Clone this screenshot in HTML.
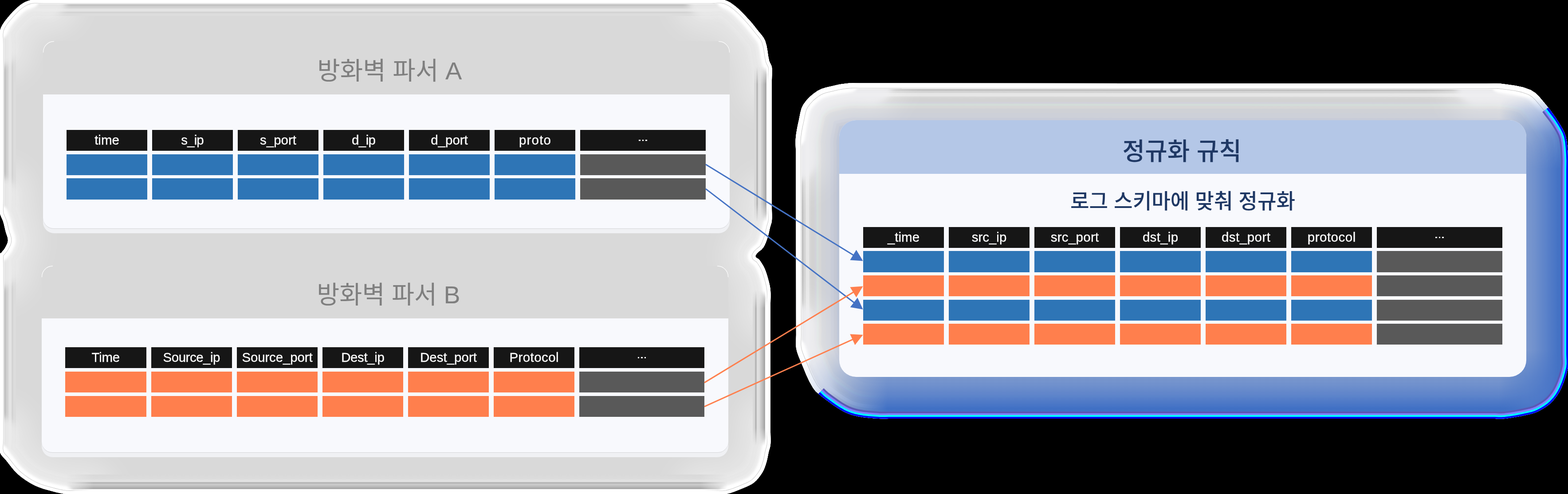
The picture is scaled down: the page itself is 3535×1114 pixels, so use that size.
<!DOCTYPE html>
<html lang="ko"><head><meta charset="utf-8"><title>로그 정규화</title>
<style>
html,body{margin:0;padding:0;background:#000}
body{width:3535px;height:1114px;position:relative;overflow:hidden;font-family:"Liberation Sans",sans-serif}
.h,.c{position:absolute}
.h{background:#161616;color:#fff;font-size:29.5px;text-align:center;white-space:nowrap;will-change:transform;-webkit-text-stroke:0.3px #fff}
.k{position:absolute;color:transparent;white-space:nowrap;line-height:1.3;overflow:hidden;height:1.3em;width:8em}
.d{display:flex;align-items:center;justify-content:center}
.d i{display:block;width:3.4px;height:3.4px;background:#fff;margin:0 2.05px}
</style></head><body>
<svg width="3535" height="1114" viewBox="0 0 3535 1114" style="position:absolute;left:0;top:0"><defs>
<clipPath id="cL"><polygon points="70.0,0.0 77.4,-0.9 84.9,-0.8 92.5,-0.3 100.0,0.0 475.8,0.0 851.5,0.0 1227.2,0.0 1603.0,0.0 1610.5,-0.4 1618.1,-1.0 1625.6,-1.1 1633.0,0.0 1640.0,2.6 1646.7,6.1 1653.0,10.4 1659.0,15.0 1666.7,21.7 1674.0,28.9 1681.1,36.4 1688.0,44.0 1693.0,49.6 1697.8,55.3 1702.4,61.1 1707.0,67.0 1711.9,73.0 1717.0,79.0 1721.5,85.2 1725.0,92.0 1728.2,103.0 1730.2,114.3 1731.8,125.7 1734.0,137.0 1735.4,140.6 1737.2,144.0 1738.9,147.4 1740.0,151.0 1740.6,158.5 1740.5,166.0 1740.2,173.5 1740.0,181.0 1740.0,252.8 1740.0,324.5 1740.0,396.2 1740.0,468.0 1740.1,475.5 1740.3,483.0 1740.4,490.5 1740.0,498.0 1739.4,501.8 1738.3,505.6 1737.1,509.3 1736.0,513.0 1734.8,518.3 1733.7,523.6 1732.5,528.8 1731.0,534.0 1728.9,540.2 1726.7,546.4 1724.2,552.3 1721.0,558.0 1716.6,562.9 1711.2,567.1 1706.3,571.6 1703.0,577.0 1703.5,579.6 1706.1,581.7 1709.4,583.7 1712.0,586.0 1715.4,590.8 1718.5,595.7 1721.5,600.8 1724.0,606.0 1726.7,612.8 1729.0,619.8 1731.1,626.9 1733.0,634.0 1734.3,639.2 1735.5,644.4 1736.4,649.7 1737.0,655.0 1737.3,662.5 1737.3,670.0 1737.1,677.5 1737.0,685.0 1737.0,757.0 1737.0,829.0 1737.0,901.0 1737.0,973.0 1737.1,980.5 1737.3,988.0 1737.4,995.5 1737.0,1003.0 1736.3,1007.1 1735.3,1011.0 1734.1,1015.0 1733.0,1019.0 1731.8,1024.8 1730.7,1030.6 1729.5,1036.3 1728.0,1042.0 1726.2,1047.9 1724.2,1053.8 1721.9,1059.5 1719.0,1065.0 1714.9,1071.3 1710.4,1077.3 1705.5,1082.9 1700.0,1088.0 1694.7,1091.7 1689.0,1094.8 1683.0,1097.5 1677.0,1100.0 1667.2,1104.1 1657.3,1108.0 1647.3,1111.4 1637.0,1114.0 1629.6,1114.8 1622.1,1114.7 1614.5,1114.3 1607.0,1114.0 1249.8,1114.0 892.5,1114.0 535.2,1114.0 178.0,1114.0 170.5,1114.1 163.0,1114.4 155.5,1114.4 148.0,1114.0 140.7,1113.0 133.4,1111.6 126.2,1109.9 119.0,1108.0 108.8,1105.3 98.6,1102.4 88.7,1099.1 79.0,1095.0 68.6,1089.5 58.6,1083.3 49.1,1076.4 40.0,1069.0 32.6,1061.6 25.9,1053.6 19.5,1045.3 13.0,1037.0 9.3,1033.0 5.5,1029.0 2.2,1024.8 0.0,1020.0 -1.1,1012.7 -1.0,1005.1 -0.4,997.6 0.0,990.0 0.0,893.0 0.0,796.0 0.0,699.0 0.0,602.0 -0.1,594.5 -0.4,587.0 -0.4,579.5 0.0,572.0 0.4,571.3 1.2,570.9 2.2,570.5 3.0,570.0 5.4,567.1 7.8,564.2 10.1,561.2 12.0,558.0 14.0,554.2 15.9,550.3 17.4,546.2 18.0,542.0 17.5,537.2 16.2,532.4 14.5,527.7 13.0,523.0 11.5,517.0 10.1,511.0 8.7,504.9 7.0,499.0 5.2,494.5 3.1,490.1 1.2,485.6 0.0,481.0 -0.6,473.5 -0.5,466.0 -0.2,458.5 0.0,451.0 0.0,363.0 0.0,275.0 0.0,187.0 0.0,99.0 -0.3,91.5 -0.9,83.9 -1.0,76.4 0.0,69.0 2.3,62.2 5.7,55.8 9.6,49.8 14.0,44.0 21.1,35.4 28.6,27.1 36.5,19.2 45.0,12.0 50.7,8.0 56.8,4.6 63.3,1.9"/></clipPath>
<clipPath id="cC"><polygon points="1915.0,187.5 1922.5,187.1 1930.0,187.2 1937.5,187.4 1945.0,187.5 2296.7,187.8 2648.5,188.0 3000.3,188.2 3352.0,188.5 3359.5,188.3 3367.0,187.9 3374.5,187.9 3382.0,188.5 3399.6,190.8 3417.2,193.3 3434.5,197.1 3451.0,203.0 3460.9,209.3 3469.5,217.5 3477.4,226.7 3485.0,236.0 3492.8,245.5 3500.3,255.4 3507.3,265.6 3514.0,276.0 3518.7,283.6 3523.2,291.5 3527.1,299.6 3530.0,308.0 3532.3,319.6 3533.6,331.3 3534.4,343.2 3535.0,355.0 3535.3,362.5 3535.2,370.0 3535.1,377.5 3535.0,385.0 3535.0,488.2 3535.0,591.5 3535.0,694.8 3535.0,798.0 3535.3,805.5 3535.7,813.1 3535.8,820.6 3535.0,828.0 3532.3,840.1 3528.9,852.0 3524.8,863.6 3520.0,875.0 3515.5,883.7 3510.4,892.0 3504.5,899.8 3498.0,907.0 3491.0,913.2 3483.4,918.7 3475.3,923.6 3467.0,928.0 3460.5,930.7 3453.8,932.8 3446.9,934.5 3440.0,936.0 3428.3,938.4 3416.6,940.6 3404.8,942.5 3393.0,944.0 3385.5,944.4 3378.0,944.4 3370.5,944.1 3363.0,944.0 3025.0,944.0 2687.0,944.0 2349.0,944.0 2011.0,944.0 2003.5,944.1 1996.0,944.2 1988.5,944.3 1981.0,944.0 1969.2,943.2 1957.4,942.3 1945.6,941.0 1934.0,939.0 1925.7,937.1 1917.6,934.7 1909.6,931.6 1902.0,928.0 1890.8,921.5 1879.9,914.4 1869.4,906.8 1859.0,899.0 1851.9,893.6 1844.9,888.0 1838.4,881.9 1833.0,875.0 1824.5,859.9 1817.2,844.2 1810.6,828.1 1804.0,812.0 1801.2,805.4 1798.7,798.7 1796.5,791.9 1795.0,785.0 1794.3,777.6 1794.4,770.0 1794.7,762.5 1794.9,755.0 1794.7,651.3 1794.5,547.5 1794.3,443.7 1794.1,340.0 1793.9,332.5 1793.6,325.0 1793.6,317.5 1794.0,310.0 1795.2,300.2 1796.9,290.4 1798.8,280.7 1801.0,271.0 1802.8,262.0 1804.6,252.9 1807.1,244.1 1811.0,236.0 1817.6,227.0 1825.2,218.7 1833.8,211.4 1843.0,205.0 1851.9,200.6 1861.4,197.6 1871.2,195.2 1881.0,193.0 1889.4,191.1 1897.9,189.6 1906.4,188.4"/></clipPath>
<radialGradient id="fL1" cx="0" cy="0" r="210" gradientUnits="userSpaceOnUse"><stop offset="0" stop-color="#fff" stop-opacity="0.8"/><stop offset="0.3" stop-color="#fff" stop-opacity="0.7"/><stop offset="0.44999999999999996" stop-color="#fff" stop-opacity="0.4"/><stop offset="0.6499999999999999" stop-color="#fff" stop-opacity="0.15"/><stop offset="1" stop-color="#fff" stop-opacity="0"/></radialGradient><radialGradient id="fL2" cx="1740" cy="0" r="250" gradientUnits="userSpaceOnUse"><stop offset="0" stop-color="#fff" stop-opacity="0.8"/><stop offset="0.4" stop-color="#fff" stop-opacity="0.7"/><stop offset="0.55" stop-color="#fff" stop-opacity="0.4"/><stop offset="0.75" stop-color="#fff" stop-opacity="0.15"/><stop offset="1" stop-color="#fff" stop-opacity="0"/></radialGradient><radialGradient id="fL3" cx="0" cy="1114" r="220" gradientUnits="userSpaceOnUse"><stop offset="0" stop-color="#fff" stop-opacity="0.8"/><stop offset="0.35" stop-color="#fff" stop-opacity="0.7"/><stop offset="0.5" stop-color="#fff" stop-opacity="0.4"/><stop offset="0.7" stop-color="#fff" stop-opacity="0.15"/><stop offset="1" stop-color="#fff" stop-opacity="0"/></radialGradient><radialGradient id="fL4" cx="1740" cy="1114" r="220" gradientUnits="userSpaceOnUse"><stop offset="0" stop-color="#fff" stop-opacity="0.8"/><stop offset="0.3" stop-color="#fff" stop-opacity="0.7"/><stop offset="0.44999999999999996" stop-color="#fff" stop-opacity="0.4"/><stop offset="0.6499999999999999" stop-color="#fff" stop-opacity="0.15"/><stop offset="1" stop-color="#fff" stop-opacity="0"/></radialGradient><radialGradient id="fL5" cx="-40" cy="542" r="170" gradientUnits="userSpaceOnUse"><stop offset="0" stop-color="#fff" stop-opacity="0.8"/><stop offset="0.3" stop-color="#fff" stop-opacity="0.7"/><stop offset="0.44999999999999996" stop-color="#fff" stop-opacity="0.4"/><stop offset="0.6499999999999999" stop-color="#fff" stop-opacity="0.15"/><stop offset="1" stop-color="#fff" stop-opacity="0"/></radialGradient><radialGradient id="fL6" cx="1760" cy="577" r="170" gradientUnits="userSpaceOnUse"><stop offset="0" stop-color="#fff" stop-opacity="0.8"/><stop offset="0.3" stop-color="#fff" stop-opacity="0.7"/><stop offset="0.44999999999999996" stop-color="#fff" stop-opacity="0.4"/><stop offset="0.6499999999999999" stop-color="#fff" stop-opacity="0.15"/><stop offset="1" stop-color="#fff" stop-opacity="0"/></radialGradient><radialGradient id="fC1" cx="1794" cy="187" r="240" gradientUnits="userSpaceOnUse"><stop offset="0" stop-color="#fff" stop-opacity="0.8"/><stop offset="0.35" stop-color="#fff" stop-opacity="0.7"/><stop offset="0.5" stop-color="#fff" stop-opacity="0.4"/><stop offset="0.7" stop-color="#fff" stop-opacity="0.15"/><stop offset="1" stop-color="#fff" stop-opacity="0"/></radialGradient><radialGradient id="fC2" cx="3535" cy="187" r="240" gradientUnits="userSpaceOnUse"><stop offset="0" stop-color="#fff" stop-opacity="0.8"/><stop offset="0.4" stop-color="#fff" stop-opacity="0.7"/><stop offset="0.55" stop-color="#fff" stop-opacity="0.4"/><stop offset="0.75" stop-color="#fff" stop-opacity="0.15"/><stop offset="1" stop-color="#fff" stop-opacity="0"/></radialGradient><radialGradient id="fC3" cx="1794" cy="944" r="240" gradientUnits="userSpaceOnUse"><stop offset="0" stop-color="#fff" stop-opacity="0.8"/><stop offset="0.4" stop-color="#fff" stop-opacity="0.7"/><stop offset="0.55" stop-color="#fff" stop-opacity="0.4"/><stop offset="0.75" stop-color="#fff" stop-opacity="0.15"/><stop offset="1" stop-color="#fff" stop-opacity="0"/></radialGradient>
<linearGradient id="gB" x1="0" y1="790" x2="0" y2="944" gradientUnits="userSpaceOnUse">
<stop offset="0" stop-color="#4472c4" stop-opacity="0"/><stop offset="0.39" stop-color="#4e7ac8" stop-opacity="0.62"/><stop offset="0.65" stop-color="#4a76c8" stop-opacity="0.85"/><stop offset="0.85" stop-color="#4070c4" stop-opacity="1"/><stop offset="1" stop-color="#3e78c4" stop-opacity="1"/></linearGradient>
<linearGradient id="gBm" x1="1794" y1="0" x2="2000" y2="0" gradientUnits="userSpaceOnUse">
<stop offset="0" stop-color="#fff" stop-opacity="0"/><stop offset="0.25" stop-color="#fff" stop-opacity="0.25"/><stop offset="1" stop-color="#fff" stop-opacity="1"/></linearGradient>
<mask id="mB" maskUnits="userSpaceOnUse" x="1700" y="700" width="1900" height="300"><rect x="1700" y="700" width="1900" height="300" fill="url(#gBm)"/></mask>
<linearGradient id="gR" x1="3380" y1="0" x2="3535" y2="0" gradientUnits="userSpaceOnUse">
<stop offset="0" stop-color="#4472c4" stop-opacity="0"/><stop offset="0.39" stop-color="#4e7ac8" stop-opacity="0.6"/><stop offset="0.65" stop-color="#4a76c8" stop-opacity="0.85"/><stop offset="0.85" stop-color="#4472c4" stop-opacity="1"/><stop offset="1" stop-color="#4472c4" stop-opacity="1"/></linearGradient>
<linearGradient id="gRm" x1="0" y1="215" x2="0" y2="380" gradientUnits="userSpaceOnUse">
<stop offset="0" stop-color="#fff" stop-opacity="0"/><stop offset="0.2" stop-color="#fff" stop-opacity="0.45"/><stop offset="0.5" stop-color="#fff" stop-opacity="0.8"/><stop offset="1" stop-color="#fff" stop-opacity="1"/></linearGradient>
<mask id="mR" maskUnits="userSpaceOnUse" x="3300" y="150" width="300" height="900"><rect x="3300" y="150" width="300" height="900" fill="url(#gRm)"/></mask>
<linearGradient id="gLf" x1="1835" y1="0" x2="1892" y2="0" gradientUnits="userSpaceOnUse">
<stop offset="0" stop-color="#8ea3cf" stop-opacity="0"/><stop offset="1" stop-color="#8ea3cf" stop-opacity="0.55"/></linearGradient>
<linearGradient id="gLm" x1="0" y1="265" x2="0" y2="340" gradientUnits="userSpaceOnUse">
<stop offset="0" stop-color="#fff" stop-opacity="0"/><stop offset="1" stop-color="#fff" stop-opacity="1"/></linearGradient>
<mask id="mL" maskUnits="userSpaceOnUse" x="1700" y="100" width="2000" height="1000"><rect x="1700" y="100" width="2000" height="1000" fill="url(#gLm)"/></mask>
<filter id="bl4" filterUnits="userSpaceOnUse" x="-50" y="-50" width="3700" height="1300"><feGaussianBlur stdDeviation="4"/></filter><filter id="bl6" filterUnits="userSpaceOnUse" x="-50" y="-50" width="3700" height="1300"><feGaussianBlur stdDeviation="7"/></filter>
<filter id="bl12" filterUnits="userSpaceOnUse" x="1700" y="100" width="2000" height="1000"><feGaussianBlur stdDeviation="13"/></filter>
<linearGradient id="gLm2" x1="1960" y1="0" x2="2100" y2="0" gradientUnits="userSpaceOnUse"><stop offset="0" stop-color="#fff" stop-opacity="1"/><stop offset="1" stop-color="#fff" stop-opacity="0"/></linearGradient>
<mask id="mL2" maskUnits="userSpaceOnUse" x="1700" y="100" width="2000" height="1000"><rect x="1700" y="100" width="2000" height="1000" fill="url(#gLm2)"/></mask>
<filter id="bl2" filterUnits="userSpaceOnUse" x="-50" y="-50" width="3700" height="1300"><feGaussianBlur stdDeviation="1.5"/></filter>
<filter id="bl3" filterUnits="userSpaceOnUse" x="-50" y="-50" width="3700" height="1300"><feGaussianBlur stdDeviation="2.5"/></filter>
<filter id="bl07" filterUnits="userSpaceOnUse" x="-50" y="-50" width="3700" height="1300"><feGaussianBlur stdDeviation="0.7"/></filter>
<filter id="bl25" filterUnits="userSpaceOnUse" x="-100" y="-100" width="3800" height="1400"><feGaussianBlur stdDeviation="24"/></filter>
<linearGradient id="gTop" x1="0" y1="0" x2="0" y2="90" gradientUnits="userSpaceOnUse">
<stop offset="0" stop-color="#fff" stop-opacity="0"/><stop offset="0.12" stop-color="#fff" stop-opacity="0"/><stop offset="0.3" stop-color="#fff" stop-opacity="0.3"/><stop offset="1" stop-color="#fff" stop-opacity="0"/></linearGradient>
</defs><defs><polygon id="pL" points="70.0,0.0 77.4,-0.9 84.9,-0.8 92.5,-0.3 100.0,0.0 475.8,0.0 851.5,0.0 1227.2,0.0 1603.0,0.0 1610.5,-0.4 1618.1,-1.0 1625.6,-1.1 1633.0,0.0 1640.0,2.6 1646.7,6.1 1653.0,10.4 1659.0,15.0 1666.7,21.7 1674.0,28.9 1681.1,36.4 1688.0,44.0 1693.0,49.6 1697.8,55.3 1702.4,61.1 1707.0,67.0 1711.9,73.0 1717.0,79.0 1721.5,85.2 1725.0,92.0 1728.2,103.0 1730.2,114.3 1731.8,125.7 1734.0,137.0 1735.4,140.6 1737.2,144.0 1738.9,147.4 1740.0,151.0 1740.6,158.5 1740.5,166.0 1740.2,173.5 1740.0,181.0 1740.0,252.8 1740.0,324.5 1740.0,396.2 1740.0,468.0 1740.1,475.5 1740.3,483.0 1740.4,490.5 1740.0,498.0 1739.4,501.8 1738.3,505.6 1737.1,509.3 1736.0,513.0 1734.8,518.3 1733.7,523.6 1732.5,528.8 1731.0,534.0 1728.9,540.2 1726.7,546.4 1724.2,552.3 1721.0,558.0 1716.6,562.9 1711.2,567.1 1706.3,571.6 1703.0,577.0 1703.5,579.6 1706.1,581.7 1709.4,583.7 1712.0,586.0 1715.4,590.8 1718.5,595.7 1721.5,600.8 1724.0,606.0 1726.7,612.8 1729.0,619.8 1731.1,626.9 1733.0,634.0 1734.3,639.2 1735.5,644.4 1736.4,649.7 1737.0,655.0 1737.3,662.5 1737.3,670.0 1737.1,677.5 1737.0,685.0 1737.0,757.0 1737.0,829.0 1737.0,901.0 1737.0,973.0 1737.1,980.5 1737.3,988.0 1737.4,995.5 1737.0,1003.0 1736.3,1007.1 1735.3,1011.0 1734.1,1015.0 1733.0,1019.0 1731.8,1024.8 1730.7,1030.6 1729.5,1036.3 1728.0,1042.0 1726.2,1047.9 1724.2,1053.8 1721.9,1059.5 1719.0,1065.0 1714.9,1071.3 1710.4,1077.3 1705.5,1082.9 1700.0,1088.0 1694.7,1091.7 1689.0,1094.8 1683.0,1097.5 1677.0,1100.0 1667.2,1104.1 1657.3,1108.0 1647.3,1111.4 1637.0,1114.0 1629.6,1114.8 1622.1,1114.7 1614.5,1114.3 1607.0,1114.0 1249.8,1114.0 892.5,1114.0 535.2,1114.0 178.0,1114.0 170.5,1114.1 163.0,1114.4 155.5,1114.4 148.0,1114.0 140.7,1113.0 133.4,1111.6 126.2,1109.9 119.0,1108.0 108.8,1105.3 98.6,1102.4 88.7,1099.1 79.0,1095.0 68.6,1089.5 58.6,1083.3 49.1,1076.4 40.0,1069.0 32.6,1061.6 25.9,1053.6 19.5,1045.3 13.0,1037.0 9.3,1033.0 5.5,1029.0 2.2,1024.8 0.0,1020.0 -1.1,1012.7 -1.0,1005.1 -0.4,997.6 0.0,990.0 0.0,893.0 0.0,796.0 0.0,699.0 0.0,602.0 -0.1,594.5 -0.4,587.0 -0.4,579.5 0.0,572.0 0.4,571.3 1.2,570.9 2.2,570.5 3.0,570.0 5.4,567.1 7.8,564.2 10.1,561.2 12.0,558.0 14.0,554.2 15.9,550.3 17.4,546.2 18.0,542.0 17.5,537.2 16.2,532.4 14.5,527.7 13.0,523.0 11.5,517.0 10.1,511.0 8.7,504.9 7.0,499.0 5.2,494.5 3.1,490.1 1.2,485.6 0.0,481.0 -0.6,473.5 -0.5,466.0 -0.2,458.5 0.0,451.0 0.0,363.0 0.0,275.0 0.0,187.0 0.0,99.0 -0.3,91.5 -0.9,83.9 -1.0,76.4 0.0,69.0 2.3,62.2 5.7,55.8 9.6,49.8 14.0,44.0 21.1,35.4 28.6,27.1 36.5,19.2 45.0,12.0 50.7,8.0 56.8,4.6 63.3,1.9"/><polygon id="pC" points="1915.0,187.5 1922.5,187.1 1930.0,187.2 1937.5,187.4 1945.0,187.5 2296.7,187.8 2648.5,188.0 3000.3,188.2 3352.0,188.5 3359.5,188.3 3367.0,187.9 3374.5,187.9 3382.0,188.5 3399.6,190.8 3417.2,193.3 3434.5,197.1 3451.0,203.0 3460.9,209.3 3469.5,217.5 3477.4,226.7 3485.0,236.0 3492.8,245.5 3500.3,255.4 3507.3,265.6 3514.0,276.0 3518.7,283.6 3523.2,291.5 3527.1,299.6 3530.0,308.0 3532.3,319.6 3533.6,331.3 3534.4,343.2 3535.0,355.0 3535.3,362.5 3535.2,370.0 3535.1,377.5 3535.0,385.0 3535.0,488.2 3535.0,591.5 3535.0,694.8 3535.0,798.0 3535.3,805.5 3535.7,813.1 3535.8,820.6 3535.0,828.0 3532.3,840.1 3528.9,852.0 3524.8,863.6 3520.0,875.0 3515.5,883.7 3510.4,892.0 3504.5,899.8 3498.0,907.0 3491.0,913.2 3483.4,918.7 3475.3,923.6 3467.0,928.0 3460.5,930.7 3453.8,932.8 3446.9,934.5 3440.0,936.0 3428.3,938.4 3416.6,940.6 3404.8,942.5 3393.0,944.0 3385.5,944.4 3378.0,944.4 3370.5,944.1 3363.0,944.0 3025.0,944.0 2687.0,944.0 2349.0,944.0 2011.0,944.0 2003.5,944.1 1996.0,944.2 1988.5,944.3 1981.0,944.0 1969.2,943.2 1957.4,942.3 1945.6,941.0 1934.0,939.0 1925.7,937.1 1917.6,934.7 1909.6,931.6 1902.0,928.0 1890.8,921.5 1879.9,914.4 1869.4,906.8 1859.0,899.0 1851.9,893.6 1844.9,888.0 1838.4,881.9 1833.0,875.0 1824.5,859.9 1817.2,844.2 1810.6,828.1 1804.0,812.0 1801.2,805.4 1798.7,798.7 1796.5,791.9 1795.0,785.0 1794.3,777.6 1794.4,770.0 1794.7,762.5 1794.9,755.0 1794.7,651.3 1794.5,547.5 1794.3,443.7 1794.1,340.0 1793.9,332.5 1793.6,325.0 1793.6,317.5 1794.0,310.0 1795.2,300.2 1796.9,290.4 1798.8,280.7 1801.0,271.0 1802.8,262.0 1804.6,252.9 1807.1,244.1 1811.0,236.0 1817.6,227.0 1825.2,218.7 1833.8,211.4 1843.0,205.0 1851.9,200.6 1861.4,197.6 1871.2,195.2 1881.0,193.0 1889.4,191.1 1897.9,189.6 1906.4,188.4"/><linearGradient id="sR1" gradientUnits="userSpaceOnUse" x1="1700" y1="0" x2="1740" y2="0"><stop offset="0.0000" stop-color="#d9d9d9"/><stop offset="0.1250" stop-color="#d9d9d9"/><stop offset="0.1375" stop-color="#b8b8b8"/><stop offset="0.2250" stop-color="#b8b8b8"/><stop offset="0.2375" stop-color="#e0e0e0"/><stop offset="0.4000" stop-color="#dcdcdc"/><stop offset="0.4125" stop-color="#cfcfcf"/><stop offset="0.5000" stop-color="#cacaca"/><stop offset="0.5125" stop-color="#bdbdbd"/><stop offset="0.6000" stop-color="#bababa"/><stop offset="0.6125" stop-color="#a9a9a9"/><stop offset="0.6975" stop-color="#a9a9a9"/><stop offset="0.7000" stop-color="#fff"/><stop offset="1.0000" stop-color="#fff"/></linearGradient><linearGradient id="sR2" gradientUnits="userSpaceOnUse" x1="1697" y1="0" x2="1737" y2="0"><stop offset="0.0000" stop-color="#d9d9d9"/><stop offset="0.1250" stop-color="#d9d9d9"/><stop offset="0.1375" stop-color="#b8b8b8"/><stop offset="0.2250" stop-color="#b8b8b8"/><stop offset="0.2375" stop-color="#e0e0e0"/><stop offset="0.4000" stop-color="#dcdcdc"/><stop offset="0.4125" stop-color="#cfcfcf"/><stop offset="0.5000" stop-color="#cacaca"/><stop offset="0.5125" stop-color="#bdbdbd"/><stop offset="0.6000" stop-color="#bababa"/><stop offset="0.6125" stop-color="#a9a9a9"/><stop offset="0.6975" stop-color="#a9a9a9"/><stop offset="0.7000" stop-color="#fff"/><stop offset="1.0000" stop-color="#fff"/></linearGradient><linearGradient id="sBt" gradientUnits="userSpaceOnUse" x1="0" y1="1070" x2="0" y2="1114"><stop offset="0.0000" stop-color="#d9d9d9"/><stop offset="0.2273" stop-color="#dcdcdc"/><stop offset="0.2955" stop-color="#e2e2e2"/><stop offset="0.3750" stop-color="#e2e2e2"/><stop offset="0.3864" stop-color="#b9b9b9"/><stop offset="0.4659" stop-color="#b9b9b9"/><stop offset="0.4773" stop-color="#cacaca"/><stop offset="0.5568" stop-color="#cacaca"/><stop offset="0.5682" stop-color="#bcbcbc"/><stop offset="0.6477" stop-color="#bcbcbc"/><stop offset="0.6591" stop-color="#aaaaaa"/><stop offset="0.7477" stop-color="#aaaaaa"/><stop offset="0.7500" stop-color="#fff"/><stop offset="1.0000" stop-color="#fff"/></linearGradient><linearGradient id="fR1g" gradientUnits="userSpaceOnUse" x1="0" y1="150" x2="0" y2="500"><stop offset="0" stop-color="#fff" stop-opacity="0"/><stop offset="0.1143" stop-color="#fff" stop-opacity="1"/><stop offset="0.8857" stop-color="#fff" stop-opacity="1"/><stop offset="1" stop-color="#fff" stop-opacity="0"/></linearGradient><mask id="fR1" maskUnits="userSpaceOnUse" x="1690" y="150" width="60" height="350"><rect x="1690" y="150" width="60" height="350" fill="url(#fR1g)"/></mask><linearGradient id="fR2g" gradientUnits="userSpaceOnUse" x1="0" y1="655" x2="0" y2="1005"><stop offset="0" stop-color="#fff" stop-opacity="0"/><stop offset="0.1143" stop-color="#fff" stop-opacity="1"/><stop offset="0.8857" stop-color="#fff" stop-opacity="1"/><stop offset="1" stop-color="#fff" stop-opacity="0"/></linearGradient><mask id="fR2" maskUnits="userSpaceOnUse" x="1690" y="655" width="60" height="350"><rect x="1690" y="655" width="60" height="350" fill="url(#fR2g)"/></mask><linearGradient id="fBtg" gradientUnits="userSpaceOnUse" x1="150" y1="0" x2="1640" y2="0"><stop offset="0" stop-color="#fff" stop-opacity="0"/><stop offset="0.0403" stop-color="#fff" stop-opacity="1"/><stop offset="0.9597" stop-color="#fff" stop-opacity="1"/><stop offset="1" stop-color="#fff" stop-opacity="0"/></linearGradient><mask id="fBt" maskUnits="userSpaceOnUse" x="150" y="1060" width="1490" height="60"><rect x="150" y="1060" width="1490" height="60" fill="url(#fBtg)"/></mask></defs><g clip-path="url(#cL)"><use href="#pL" fill="#d9d9d9"/><polyline points="0.0,110.0 -0.4,99.7 -1.1,89.4 -1.2,79.1 0.0,69.0 2.2,62.2 5.5,55.8 9.6,49.8 14.0,44.0 21.1,35.4 28.6,27.1 36.5,19.2 45.0,12.0 50.7,8.0 56.8,4.5 63.3,1.8 70.0,0.0 79.9,-1.0 89.9,-0.9 100.0,-0.3 110.0,0.0" fill="none" stroke="#fff" stroke-opacity="0.3" stroke-width="150" stroke-linejoin="round" stroke-linecap="round" filter="url(#bl25)"/><polyline points="1590.0,0.0 1600.8,-0.4 1611.6,-1.1 1622.4,-1.3 1633.0,0.0 1640.1,2.4 1646.7,6.0 1653.0,10.3 1659.0,15.0 1666.7,21.7 1674.0,28.9 1681.1,36.4 1688.0,44.0 1693.0,49.6 1697.8,55.3 1702.4,61.1 1707.0,67.0 1711.9,73.0 1717.0,79.0 1721.5,85.2 1725.0,92.0 1728.2,103.0 1730.2,114.3 1731.8,125.7 1734.0,137.0 1735.4,140.6 1737.3,144.0 1739.0,147.4 1740.0,151.0 1740.6,160.7 1740.5,170.5 1740.2,180.2 1740.0,190.0" fill="none" stroke="#fff" stroke-opacity="0.3" stroke-width="150" stroke-linejoin="round" stroke-linecap="round" filter="url(#bl25)"/><polyline points="1740.0,460.0 1740.1,469.5 1740.4,479.0 1740.4,488.5 1740.0,498.0 1739.4,501.8 1738.3,505.6 1737.1,509.3 1736.0,513.0 1734.8,518.3 1733.7,523.6 1732.5,528.8 1731.0,534.0 1728.9,540.2 1726.7,546.4 1724.2,552.3 1721.0,558.0 1716.6,562.9 1711.2,567.1 1706.3,571.6 1703.0,577.0 1703.5,579.6 1706.1,581.7 1709.4,583.7 1712.0,586.0 1715.4,590.8 1718.5,595.7 1721.5,600.8 1724.0,606.0 1726.7,612.8 1729.0,619.8 1731.1,626.9 1733.0,634.0 1734.3,639.2 1735.5,644.4 1736.5,649.7 1737.0,655.0 1737.4,666.2 1737.3,677.5 1737.1,688.7 1737.0,700.0" fill="none" stroke="#fff" stroke-opacity="0.3" stroke-width="150" stroke-linejoin="round" stroke-linecap="round" filter="url(#bl25)"/><polyline points="1737.0,960.0 1737.1,970.8 1737.4,981.5 1737.4,992.3 1737.0,1003.0 1736.4,1007.1 1735.3,1011.0 1734.1,1015.0 1733.0,1019.0 1731.8,1024.8 1730.7,1030.6 1729.5,1036.3 1728.0,1042.0 1726.2,1047.9 1724.2,1053.8 1721.9,1059.5 1719.0,1065.0 1714.9,1071.3 1710.4,1077.3 1705.5,1082.9 1700.0,1088.0 1694.7,1091.7 1689.0,1094.8 1683.0,1097.5 1677.0,1100.0 1667.2,1104.1 1657.3,1108.2 1647.3,1111.6 1637.0,1114.0 1625.3,1115.1 1613.6,1114.9 1601.8,1114.4 1590.0,1114.0" fill="none" stroke="#fff" stroke-opacity="0.3" stroke-width="150" stroke-linejoin="round" stroke-linecap="round" filter="url(#bl25)"/><polyline points="190.0,1114.0 179.5,1114.2 169.0,1114.4 158.5,1114.5 148.0,1114.0 140.7,1113.1 133.4,1111.7 126.2,1109.9 119.0,1108.0 108.8,1105.3 98.6,1102.4 88.7,1099.1 79.0,1095.0 68.6,1089.5 58.6,1083.3 49.1,1076.4 40.0,1069.0 32.6,1061.6 25.9,1053.6 19.5,1045.3 13.0,1037.0 9.3,1033.0 5.4,1029.0 2.1,1024.8 0.0,1020.0 -1.3,1010.1 -1.1,1000.1 -0.4,990.0 0.0,980.0" fill="none" stroke="#fff" stroke-opacity="0.3" stroke-width="150" stroke-linejoin="round" stroke-linecap="round" filter="url(#bl25)"/><polyline points="0.0,610.0 -0.1,600.5 -0.4,591.0 -0.4,581.5 0.0,572.0 0.4,571.3 1.2,570.9 2.2,570.5 3.0,570.0 5.4,567.1 7.8,564.2 10.1,561.2 12.0,558.0 14.0,554.2 15.9,550.3 17.4,546.2 18.0,542.0 17.5,537.2 16.2,532.4 14.5,527.7 13.0,523.0 11.5,517.0 10.1,511.0 8.7,504.9 7.0,499.0 5.2,494.5 3.1,490.1 1.1,485.6 0.0,481.0 -0.7,470.8 -0.6,460.5 -0.2,450.3 0.0,440.0" fill="none" stroke="#fff" stroke-opacity="0.3" stroke-width="150" stroke-linejoin="round" stroke-linecap="round" filter="url(#bl25)"/><g filter="url(#bl07)"><use href="#pL" fill="none" stroke="#dcdcdc" stroke-width="72.0" stroke-linejoin="round"/><use href="#pL" fill="none" stroke="#d4d4d4" stroke-width="60.0" stroke-linejoin="round"/><use href="#pL" fill="none" stroke="#e4e4e4" stroke-width="52.0" stroke-linejoin="round"/><use href="#pL" fill="none" stroke="#d8d8d8" stroke-width="40.0" stroke-linejoin="round"/><use href="#pL" fill="none" stroke="#cecece" stroke-width="34.0" stroke-linejoin="round"/><use href="#pL" fill="none" stroke="#bcbcbc" stroke-width="25.0" stroke-linejoin="round"/></g><polyline points="0.0,110.0 -0.4,99.7 -1.1,89.4 -1.2,79.1 0.0,69.0 2.2,62.2 5.5,55.8 9.6,49.8 14.0,44.0 21.1,35.4 28.6,27.1 36.5,19.2 45.0,12.0 50.7,8.0 56.8,4.5 63.3,1.8 70.0,0.0 79.9,-1.0 89.9,-0.9 100.0,-0.3 110.0,0.0" fill="none" stroke="#ececec" stroke-opacity="0.85" stroke-width="80" stroke-linejoin="round" stroke-linecap="round" filter="url(#bl6)"/><polyline points="1590.0,0.0 1600.8,-0.4 1611.6,-1.1 1622.4,-1.3 1633.0,0.0 1640.1,2.4 1646.7,6.0 1653.0,10.3 1659.0,15.0 1666.7,21.7 1674.0,28.9 1681.1,36.4 1688.0,44.0 1693.0,49.6 1697.8,55.3 1702.4,61.1 1707.0,67.0 1711.9,73.0 1717.0,79.0 1721.5,85.2 1725.0,92.0 1728.2,103.0 1730.2,114.3 1731.8,125.7 1734.0,137.0 1735.4,140.6 1737.3,144.0 1739.0,147.4 1740.0,151.0 1740.6,160.7 1740.5,170.5 1740.2,180.2 1740.0,190.0" fill="none" stroke="#ececec" stroke-opacity="0.85" stroke-width="80" stroke-linejoin="round" stroke-linecap="round" filter="url(#bl6)"/><polyline points="1740.0,460.0 1740.1,469.5 1740.4,479.0 1740.4,488.5 1740.0,498.0 1739.4,501.8 1738.3,505.6 1737.1,509.3 1736.0,513.0 1734.8,518.3 1733.7,523.6 1732.5,528.8 1731.0,534.0 1728.9,540.2 1726.7,546.4 1724.2,552.3 1721.0,558.0 1716.6,562.9 1711.2,567.1 1706.3,571.6 1703.0,577.0 1703.5,579.6 1706.1,581.7 1709.4,583.7 1712.0,586.0 1715.4,590.8 1718.5,595.7 1721.5,600.8 1724.0,606.0 1726.7,612.8 1729.0,619.8 1731.1,626.9 1733.0,634.0 1734.3,639.2 1735.5,644.4 1736.5,649.7 1737.0,655.0 1737.4,666.2 1737.3,677.5 1737.1,688.7 1737.0,700.0" fill="none" stroke="#ececec" stroke-opacity="0.85" stroke-width="80" stroke-linejoin="round" stroke-linecap="round" filter="url(#bl6)"/><polyline points="1737.0,960.0 1737.1,970.8 1737.4,981.5 1737.4,992.3 1737.0,1003.0 1736.4,1007.1 1735.3,1011.0 1734.1,1015.0 1733.0,1019.0 1731.8,1024.8 1730.7,1030.6 1729.5,1036.3 1728.0,1042.0 1726.2,1047.9 1724.2,1053.8 1721.9,1059.5 1719.0,1065.0 1714.9,1071.3 1710.4,1077.3 1705.5,1082.9 1700.0,1088.0 1694.7,1091.7 1689.0,1094.8 1683.0,1097.5 1677.0,1100.0 1667.2,1104.1 1657.3,1108.2 1647.3,1111.6 1637.0,1114.0 1625.3,1115.1 1613.6,1114.9 1601.8,1114.4 1590.0,1114.0" fill="none" stroke="#ececec" stroke-opacity="0.85" stroke-width="80" stroke-linejoin="round" stroke-linecap="round" filter="url(#bl6)"/><polyline points="190.0,1114.0 179.5,1114.2 169.0,1114.4 158.5,1114.5 148.0,1114.0 140.7,1113.1 133.4,1111.7 126.2,1109.9 119.0,1108.0 108.8,1105.3 98.6,1102.4 88.7,1099.1 79.0,1095.0 68.6,1089.5 58.6,1083.3 49.1,1076.4 40.0,1069.0 32.6,1061.6 25.9,1053.6 19.5,1045.3 13.0,1037.0 9.3,1033.0 5.4,1029.0 2.1,1024.8 0.0,1020.0 -1.3,1010.1 -1.1,1000.1 -0.4,990.0 0.0,980.0" fill="none" stroke="#ececec" stroke-opacity="0.85" stroke-width="80" stroke-linejoin="round" stroke-linecap="round" filter="url(#bl6)"/><polyline points="0.0,610.0 -0.1,600.5 -0.4,591.0 -0.4,581.5 0.0,572.0 0.4,571.3 1.2,570.9 2.2,570.5 3.0,570.0 5.4,567.1 7.8,564.2 10.1,561.2 12.0,558.0 14.0,554.2 15.9,550.3 17.4,546.2 18.0,542.0 17.5,537.2 16.2,532.4 14.5,527.7 13.0,523.0 11.5,517.0 10.1,511.0 8.7,504.9 7.0,499.0 5.2,494.5 3.1,490.1 1.1,485.6 0.0,481.0 -0.7,470.8 -0.6,460.5 -0.2,450.3 0.0,440.0" fill="none" stroke="#ececec" stroke-opacity="0.85" stroke-width="80" stroke-linejoin="round" stroke-linecap="round" filter="url(#bl6)"/><polyline points="0.0,69.0 3.3,62.6 6.5,56.2 10.0,49.9 14.0,44.0 21.1,35.4 28.6,27.1 36.5,19.2 45.0,12.0 50.8,8.3 57.1,5.4 63.6,2.8 70.0,0.0" fill="none" stroke="#fff" stroke-width="36" stroke-linejoin="round" stroke-linecap="round" filter="url(#bl3)"/><polyline points="1633.0,0.0 1639.6,3.6 1646.3,7.0 1652.9,10.7 1659.0,15.0 1666.7,21.7 1674.0,28.9 1681.1,36.4 1688.0,44.0 1693.0,49.6 1697.8,55.3 1702.4,61.1 1707.0,67.0 1711.9,73.0 1717.0,79.0 1721.5,85.2 1725.0,92.0 1728.2,103.0 1730.2,114.3 1731.8,125.7 1734.0,137.0 1735.2,140.6 1736.7,144.1 1738.4,147.5 1740.0,151.0" fill="none" stroke="#fff" stroke-width="36" stroke-linejoin="round" stroke-linecap="round" filter="url(#bl3)"/><polyline points="1740.0,498.0 1739.0,501.7 1738.0,505.5 1737.0,509.2 1736.0,513.0 1734.8,518.3 1733.7,523.6 1732.5,528.8 1731.0,534.0 1728.9,540.2 1726.7,546.4 1724.2,552.3 1721.0,558.0 1716.6,562.9 1711.2,567.1 1706.3,571.6 1703.0,577.0 1703.5,579.6 1706.1,581.7 1709.4,583.7 1712.0,586.0 1715.4,590.8 1718.5,595.7 1721.5,600.8 1724.0,606.0 1726.7,612.8 1729.0,619.8 1731.1,626.9 1733.0,634.0 1734.2,639.2 1735.2,644.5 1736.1,649.7 1737.0,655.0" fill="none" stroke="#fff" stroke-width="36" stroke-linejoin="round" stroke-linecap="round" filter="url(#bl3)"/><polyline points="1737.0,1003.0 1736.0,1007.0 1735.0,1011.0 1734.0,1015.0 1733.0,1019.0 1731.8,1024.8 1730.7,1030.6 1729.5,1036.3 1728.0,1042.0 1726.2,1047.9 1724.2,1053.8 1721.9,1059.5 1719.0,1065.0 1714.9,1071.3 1710.4,1077.3 1705.5,1082.9 1700.0,1088.0 1694.7,1091.7 1689.0,1094.8 1683.0,1097.5 1677.0,1100.0 1667.1,1103.8 1657.1,1107.3 1647.0,1110.6 1637.0,1114.0" fill="none" stroke="#fff" stroke-width="36" stroke-linejoin="round" stroke-linecap="round" filter="url(#bl3)"/><polyline points="148.0,1114.0 140.7,1112.6 133.4,1111.2 126.2,1109.8 119.0,1108.0 108.8,1105.3 98.6,1102.4 88.7,1099.1 79.0,1095.0 68.6,1089.5 58.6,1083.3 49.1,1076.4 40.0,1069.0 32.6,1061.6 25.9,1053.6 19.5,1045.3 13.0,1037.0 9.7,1032.8 6.4,1028.6 3.2,1024.3 0.0,1020.0" fill="none" stroke="#fff" stroke-width="36" stroke-linejoin="round" stroke-linecap="round" filter="url(#bl3)"/><polyline points="0.0,572.0 0.8,571.5 1.6,571.1 2.3,570.6 3.0,570.0 5.4,567.1 7.8,564.2 10.1,561.2 12.0,558.0 14.0,554.2 15.9,550.3 17.4,546.2 18.0,542.0 17.5,537.2 16.2,532.4 14.5,527.7 13.0,523.0 11.5,517.0 10.1,511.0 8.7,504.9 7.0,499.0 5.4,494.4 3.7,489.9 1.8,485.5 0.0,481.0" fill="none" stroke="#fff" stroke-width="36" stroke-linejoin="round" stroke-linecap="round" filter="url(#bl3)"/><use href="#pL" fill="none" stroke="#fff" stroke-width="19.0" stroke-linejoin="round"/><use href="#pL" fill="none" stroke="#bdbdbd" stroke-width="16.6" stroke-linejoin="round"/><use href="#pL" fill="none" stroke="#fff" stroke-width="15.0" stroke-linejoin="round"/><rect x="1700" y="150" width="40" height="350" fill="url(#sR1)" mask="url(#fR1)"/><rect x="1697" y="655" width="40" height="350" fill="url(#sR2)" mask="url(#fR2)"/><rect x="150" y="1070" width="1490" height="44" fill="url(#sBt)" mask="url(#fBt)"/></g><g clip-path="url(#cC)"><use href="#pC" fill="#bcc4d6"/><g filter="url(#bl07)"><use href="#pC" fill="none" stroke="#bcc4d6" stroke-width="240.0" stroke-linejoin="round"/><use href="#pC" fill="none" stroke="#c4c8d4" stroke-width="184.0" stroke-linejoin="round"/><use href="#pC" fill="none" stroke="#c8ccd8" stroke-width="170.0" stroke-linejoin="round"/><use href="#pC" fill="none" stroke="#cdd0d8" stroke-width="156.0" stroke-linejoin="round"/><use href="#pC" fill="none" stroke="#cfd1d6" stroke-width="134.0" stroke-linejoin="round"/><use href="#pC" fill="none" stroke="#d6d6d6" stroke-width="114.0" stroke-linejoin="round"/><use href="#pC" fill="none" stroke="#d3dcd9" stroke-width="102.0" stroke-linejoin="round"/><use href="#pC" fill="none" stroke="#d2d2da" stroke-width="92.0" stroke-linejoin="round"/><use href="#pC" fill="none" stroke="#d2d2d2" stroke-width="84.0" stroke-linejoin="round"/><use href="#pC" fill="none" stroke="#d6d6d6" stroke-width="68.0" stroke-linejoin="round"/><use href="#pC" fill="none" stroke="#e6e6e6" stroke-width="60.0" stroke-linejoin="round"/><use href="#pC" fill="none" stroke="#d4d4d4" stroke-width="44.0" stroke-linejoin="round"/><use href="#pC" fill="none" stroke="#c6c6c6" stroke-width="35.0" stroke-linejoin="round"/><use href="#pC" fill="none" stroke="#bbbbbb" stroke-width="31.0" stroke-linejoin="round"/></g><polyline points="1794.0,360.0 1793.8,347.5 1793.5,335.0 1793.4,322.5 1794.0,310.0 1795.1,300.2 1796.8,290.4 1798.8,280.7 1801.0,271.0 1802.8,262.0 1804.6,252.9 1807.1,244.1 1811.0,236.0 1817.6,227.0 1825.2,218.7 1833.8,211.4 1843.0,205.0 1851.9,200.6 1861.4,197.6 1871.2,195.2 1881.0,193.0 1889.4,191.1 1897.9,189.5 1906.4,188.3 1915.0,187.5 1927.5,187.0 1940.0,187.1 1952.5,187.3 1965.0,187.5" fill="none" stroke="#fff" stroke-opacity="0.3" stroke-width="150" stroke-linejoin="round" stroke-linecap="round" filter="url(#bl25)"/><polyline points="3330.0,188.5 3343.0,188.2 3356.0,187.7 3369.1,187.6 3382.0,188.5 3399.6,190.6 3417.2,193.1 3434.5,197.0 3451.0,203.0 3460.9,209.3 3469.4,217.6 3477.2,226.9 3485.0,236.0 3489.0,240.8 3492.7,245.8 3496.3,250.9 3500.0,256.0" fill="none" stroke="#fff" stroke-opacity="0.3" stroke-width="150" stroke-linejoin="round" stroke-linecap="round" filter="url(#bl25)"/><polyline points="1833.0,875.0 1825.7,859.3 1818.2,843.6 1811.0,827.9 1804.0,812.0 1801.2,805.4 1798.6,798.8 1796.4,792.0 1795.0,785.0 1794.0,772.6 1793.8,760.1 1794.0,747.5 1794.0,735.0" fill="none" stroke="#fff" stroke-opacity="0.3" stroke-width="150" stroke-linejoin="round" stroke-linecap="round" filter="url(#bl25)"/><polyline points="1794.0,360.0 1793.8,347.5 1793.5,335.0 1793.4,322.5 1794.0,310.0 1795.1,300.2 1796.8,290.4 1798.8,280.7 1801.0,271.0 1802.8,262.0 1804.6,252.9 1807.1,244.1 1811.0,236.0 1817.6,227.0 1825.2,218.7 1833.8,211.4 1843.0,205.0 1851.9,200.6 1861.4,197.6 1871.2,195.2 1881.0,193.0 1889.4,191.1 1897.9,189.5 1906.4,188.3 1915.0,187.5 1927.5,187.0 1940.0,187.1 1952.5,187.3 1965.0,187.5" fill="none" stroke="#eeeff1" stroke-opacity="0.85" stroke-width="96" stroke-linejoin="round" stroke-linecap="round" filter="url(#bl6)"/><polyline points="3330.0,188.5 3343.0,188.2 3356.0,187.7 3369.1,187.6 3382.0,188.5 3399.6,190.6 3417.2,193.1 3434.5,197.0 3451.0,203.0 3460.9,209.3 3469.4,217.6 3477.2,226.9 3485.0,236.0 3489.0,240.8 3492.7,245.8 3496.3,250.9 3500.0,256.0" fill="none" stroke="#eeeff1" stroke-opacity="0.85" stroke-width="96" stroke-linejoin="round" stroke-linecap="round" filter="url(#bl6)"/><polyline points="1833.0,875.0 1825.7,859.3 1818.2,843.6 1811.0,827.9 1804.0,812.0 1801.2,805.4 1798.6,798.8 1796.4,792.0 1795.0,785.0 1794.0,772.6 1793.8,760.1 1794.0,747.5 1794.0,735.0" fill="none" stroke="#eeeff1" stroke-opacity="0.85" stroke-width="96" stroke-linejoin="round" stroke-linecap="round" filter="url(#bl6)"/><polyline points="1794.0,310.0 1795.7,300.2 1797.3,290.5 1799.0,280.7 1801.0,271.0 1802.8,262.0 1804.6,252.9 1807.1,244.1 1811.0,236.0 1817.6,227.0 1825.2,218.7 1833.8,211.4 1843.0,205.0 1851.9,200.6 1861.4,197.6 1871.2,195.2 1881.0,193.0 1889.4,191.3 1897.9,189.9 1906.5,188.8 1915.0,187.5" fill="none" stroke="#fff" stroke-width="42" stroke-linejoin="round" stroke-linecap="round" filter="url(#bl3)"/><polyline points="3382.0,188.5 3399.5,191.4 3417.1,193.9 3434.4,197.3 3451.0,203.0 3460.8,209.4 3469.1,217.9 3476.9,227.1 3485.0,236.0" fill="none" stroke="#fff" stroke-width="42" stroke-linejoin="round" stroke-linecap="round" filter="url(#bl3)"/><polyline points="1804.0,812.0 1801.8,805.2 1799.5,798.5 1797.2,791.8 1795.0,785.0" fill="none" stroke="#fff" stroke-width="42" stroke-linejoin="round" stroke-linecap="round" filter="url(#bl3)"/><use href="#pC" fill="none" stroke="#fff" stroke-width="26.4" stroke-linejoin="round"/><use href="#pC" fill="none" stroke="#b8b8b8" stroke-width="23.6" stroke-linejoin="round"/><use href="#pC" fill="none" stroke="#fff" stroke-width="22.0" stroke-linejoin="round"/><rect x="1780" y="780" width="1800" height="200" fill="url(#gB)" mask="url(#mB)"/><rect x="3380" y="150" width="200" height="850" fill="url(#gR)" mask="url(#mR)"/><polyline points="3490.0,243.0 3496.1,251.2 3502.3,259.3 3508.4,267.5 3514.0,276.0 3518.7,283.7 3523.2,291.5 3527.1,299.6 3530.0,308.0 3532.3,319.6 3533.6,331.3 3534.4,343.2 3535.0,355.0 3535.3,362.5 3535.2,370.0 3535.1,377.5 3535.0,385.0 3535.0,488.2 3535.0,591.5 3535.0,694.8 3535.0,798.0 3535.3,805.5 3535.7,813.1 3535.8,820.6 3535.0,828.0 3532.3,840.1 3528.9,852.0 3524.8,863.6 3520.0,875.0 3515.5,883.7 3510.4,892.0 3504.5,899.8 3498.0,907.0 3491.0,913.2 3483.4,918.7 3475.3,923.6 3467.0,928.0 3460.5,930.7 3453.8,932.8 3446.9,934.5 3440.0,936.0 3428.3,938.4 3416.6,940.6 3404.8,942.5 3393.0,944.0 3385.5,944.4 3378.0,944.4 3370.5,944.1 3363.0,944.0 3025.0,944.0 2687.0,944.0 2349.0,944.0 2011.0,944.0 2003.5,944.1 1996.0,944.2 1988.5,944.3 1981.0,944.0 1969.2,943.2 1957.4,942.3 1945.6,941.0 1934.0,939.0 1925.7,937.1 1917.6,934.7 1909.6,931.6 1902.0,928.0 1890.8,921.5 1880.0,914.3 1869.5,906.7 1859.0,899.0 1855.6,896.2 1852.3,893.2 1849.2,890.1 1846.0,887.0" fill="none" stroke="#5a58b4" stroke-width="32" stroke-linejoin="round"/><polyline points="3490.0,243.0 3496.1,251.2 3502.3,259.3 3508.4,267.5 3514.0,276.0 3518.7,283.7 3523.2,291.5 3527.1,299.6 3530.0,308.0 3532.3,319.6 3533.6,331.3 3534.4,343.2 3535.0,355.0 3535.3,362.5 3535.2,370.0 3535.1,377.5 3535.0,385.0 3535.0,488.2 3535.0,591.5 3535.0,694.8 3535.0,798.0 3535.3,805.5 3535.7,813.1 3535.8,820.6 3535.0,828.0 3532.3,840.1 3528.9,852.0 3524.8,863.6 3520.0,875.0 3515.5,883.7 3510.4,892.0 3504.5,899.8 3498.0,907.0 3491.0,913.2 3483.4,918.7 3475.3,923.6 3467.0,928.0 3460.5,930.7 3453.8,932.8 3446.9,934.5 3440.0,936.0 3428.3,938.4 3416.6,940.6 3404.8,942.5 3393.0,944.0 3385.5,944.4 3378.0,944.4 3370.5,944.1 3363.0,944.0 3025.0,944.0 2687.0,944.0 2349.0,944.0 2011.0,944.0 2003.5,944.1 1996.0,944.2 1988.5,944.3 1981.0,944.0 1969.2,943.2 1957.4,942.3 1945.6,941.0 1934.0,939.0 1925.7,937.1 1917.6,934.7 1909.6,931.6 1902.0,928.0 1890.8,921.5 1880.0,914.3 1869.5,906.7 1859.0,899.0 1855.6,896.2 1852.3,893.2 1849.2,890.1 1846.0,887.0" fill="none" stroke="#8080ff" stroke-width="24" stroke-linejoin="round"/><polyline points="3490.0,243.0 3496.1,251.2 3502.3,259.3 3508.4,267.5 3514.0,276.0 3518.7,283.7 3523.2,291.5 3527.1,299.6 3530.0,308.0 3532.3,319.6 3533.6,331.3 3534.4,343.2 3535.0,355.0 3535.3,362.5 3535.2,370.0 3535.1,377.5 3535.0,385.0 3535.0,488.2 3535.0,591.5 3535.0,694.8 3535.0,798.0 3535.3,805.5 3535.7,813.1 3535.8,820.6 3535.0,828.0 3532.3,840.1 3528.9,852.0 3524.8,863.6 3520.0,875.0 3515.5,883.7 3510.4,892.0 3504.5,899.8 3498.0,907.0 3491.0,913.2 3483.4,918.7 3475.3,923.6 3467.0,928.0 3460.5,930.7 3453.8,932.8 3446.9,934.5 3440.0,936.0 3428.3,938.4 3416.6,940.6 3404.8,942.5 3393.0,944.0 3385.5,944.4 3378.0,944.4 3370.5,944.1 3363.0,944.0 3025.0,944.0 2687.0,944.0 2349.0,944.0 2011.0,944.0 2003.5,944.1 1996.0,944.2 1988.5,944.3 1981.0,944.0 1969.2,943.2 1957.4,942.3 1945.6,941.0 1934.0,939.0 1925.7,937.1 1917.6,934.7 1909.6,931.6 1902.0,928.0 1890.8,921.5 1880.0,914.3 1869.5,906.7 1859.0,899.0 1855.6,896.2 1852.3,893.2 1849.2,890.1 1846.0,887.0" fill="none" stroke="#00ffff" stroke-width="16" stroke-linejoin="round"/><polyline points="3490.0,243.0 3496.1,251.2 3502.3,259.3 3508.4,267.5 3514.0,276.0 3518.7,283.7 3523.2,291.5 3527.1,299.6 3530.0,308.0 3532.3,319.6 3533.6,331.3 3534.4,343.2 3535.0,355.0 3535.3,362.5 3535.2,370.0 3535.1,377.5 3535.0,385.0 3535.0,488.2 3535.0,591.5 3535.0,694.8 3535.0,798.0 3535.3,805.5 3535.7,813.1 3535.8,820.6 3535.0,828.0 3532.3,840.1 3528.9,852.0 3524.8,863.6 3520.0,875.0 3515.5,883.7 3510.4,892.0 3504.5,899.8 3498.0,907.0 3491.0,913.2 3483.4,918.7 3475.3,923.6 3467.0,928.0 3460.5,930.7 3453.8,932.8 3446.9,934.5 3440.0,936.0 3428.3,938.4 3416.6,940.6 3404.8,942.5 3393.0,944.0 3385.5,944.4 3378.0,944.4 3370.5,944.1 3363.0,944.0 3025.0,944.0 2687.0,944.0 2349.0,944.0 2011.0,944.0 2003.5,944.1 1996.0,944.2 1988.5,944.3 1981.0,944.0 1969.2,943.2 1957.4,942.3 1945.6,941.0 1934.0,939.0 1925.7,937.1 1917.6,934.7 1909.6,931.6 1902.0,928.0 1890.8,921.5 1880.0,914.3 1869.5,906.7 1859.0,899.0 1855.6,896.2 1852.3,893.2 1849.2,890.1 1846.0,887.0" fill="none" stroke="#0000ff" stroke-width="8" stroke-linejoin="round"/></g></svg>
<div style="position:absolute;left:97px;top:93px;width:1548px;height:150px;background:#d9d9d9;border-radius:24px 24px 0 0"></div><div style="position:absolute;left:97px;top:213px;width:1548px;height:313px;background:#f0f1f4;border-radius:0 0 25px 25px"></div><div style="position:absolute;left:97px;top:213px;width:1548px;height:302px;background:#f8f9fd;border-radius:0 0 24px 24px;box-shadow:0 1px 0.5px #d4d5d8"></div><div style="position:absolute;left:94px;top:599.5px;width:1548px;height:148.29999999999995px;background:#d9d9d9;border-radius:24px 24px 0 0"></div><div style="position:absolute;left:94px;top:717.8px;width:1548px;height:313.20000000000005px;background:#f0f1f4;border-radius:0 0 25px 25px"></div><div style="position:absolute;left:94px;top:717.8px;width:1548px;height:302.20000000000005px;background:#f8f9fd;border-radius:0 0 24px 24px;box-shadow:0 1px 0.5px #d4d5d8"></div><div style="position:absolute;left:1892px;top:271px;width:1549px;height:579px;background:#f8f9fd;border-radius:38px;overflow:hidden"><div style="height:120.7px;background:#b4c7e7"></div></div><div class="h" style="left:150px;top:293px;width:182px;height:47px;line-height:46px">time</div><div class="h" style="left:343px;top:293px;width:182px;height:47px;line-height:46px;letter-spacing:-0.9px;text-indent:-0.9px">s_ip</div><div class="h" style="left:536px;top:293px;width:182px;height:47px;line-height:46px">s_port</div><div class="h" style="left:729px;top:293px;width:182px;height:47px;line-height:46px;letter-spacing:-0.6px;text-indent:-0.6px">d_ip</div><div class="h" style="left:922px;top:293px;width:182px;height:47px;line-height:46px">d_port</div><div class="h" style="left:1115px;top:293px;width:182px;height:47px;line-height:46px;letter-spacing:1.2px;text-indent:1.2px">proto</div><div class="h d" style="left:1308px;top:293px;width:283px;height:47px"><i></i><i></i><i></i></div><div class="c" style="left:150px;top:348px;width:182px;height:47px;background:#2e75b6"></div><div class="c" style="left:343px;top:348px;width:182px;height:47px;background:#2e75b6"></div><div class="c" style="left:536px;top:348px;width:182px;height:47px;background:#2e75b6"></div><div class="c" style="left:729px;top:348px;width:182px;height:47px;background:#2e75b6"></div><div class="c" style="left:922px;top:348px;width:182px;height:47px;background:#2e75b6"></div><div class="c" style="left:1115px;top:348px;width:182px;height:47px;background:#2e75b6"></div><div class="c" style="left:1308px;top:348px;width:283px;height:47px;background:#595959"></div><div class="c" style="left:150px;top:402px;width:182px;height:48px;background:#2e75b6"></div><div class="c" style="left:343px;top:402px;width:182px;height:48px;background:#2e75b6"></div><div class="c" style="left:536px;top:402px;width:182px;height:48px;background:#2e75b6"></div><div class="c" style="left:729px;top:402px;width:182px;height:48px;background:#2e75b6"></div><div class="c" style="left:922px;top:402px;width:182px;height:48px;background:#2e75b6"></div><div class="c" style="left:1115px;top:402px;width:182px;height:48px;background:#2e75b6"></div><div class="c" style="left:1308px;top:402px;width:283px;height:48px;background:#595959"></div><div class="h" style="left:147.2px;top:783px;width:182.8px;height:47px;line-height:46px;letter-spacing:-0.3px;text-indent:-0.3px">Time</div><div class="h" style="left:341px;top:783px;width:182px;height:47px;line-height:46px;letter-spacing:-0.5px;text-indent:-0.5px">Source_ip</div><div class="h" style="left:534px;top:783px;width:182px;height:47px;line-height:46px;letter-spacing:-0.15px;text-indent:-0.15px">Source_port</div><div class="h" style="left:727px;top:783px;width:182px;height:47px;line-height:46px;letter-spacing:-0.4px;text-indent:-0.4px">Dest_ip</div><div class="h" style="left:920px;top:783px;width:182px;height:47px;line-height:46px">Dest_port</div><div class="h" style="left:1113px;top:783px;width:182px;height:47px;line-height:46px;letter-spacing:0.4px;text-indent:0.4px">Protocol</div><div class="h d" style="left:1306px;top:783px;width:282px;height:47px"><i></i><i></i><i></i></div><div class="c" style="left:147.2px;top:838px;width:182.8px;height:47px;background:#ff7f4d"></div><div class="c" style="left:341px;top:838px;width:182px;height:47px;background:#ff7f4d"></div><div class="c" style="left:534px;top:838px;width:182px;height:47px;background:#ff7f4d"></div><div class="c" style="left:727px;top:838px;width:182px;height:47px;background:#ff7f4d"></div><div class="c" style="left:920px;top:838px;width:182px;height:47px;background:#ff7f4d"></div><div class="c" style="left:1113px;top:838px;width:182px;height:47px;background:#ff7f4d"></div><div class="c" style="left:1306px;top:838px;width:282px;height:47px;background:#595959"></div><div class="c" style="left:147.2px;top:893px;width:182.8px;height:47px;background:#ff7f4d"></div><div class="c" style="left:341px;top:893px;width:182px;height:47px;background:#ff7f4d"></div><div class="c" style="left:534px;top:893px;width:182px;height:47px;background:#ff7f4d"></div><div class="c" style="left:727px;top:893px;width:182px;height:47px;background:#ff7f4d"></div><div class="c" style="left:920px;top:893px;width:182px;height:47px;background:#ff7f4d"></div><div class="c" style="left:1113px;top:893px;width:182px;height:47px;background:#ff7f4d"></div><div class="c" style="left:1306px;top:893px;width:282px;height:47px;background:#595959"></div><div class="h" style="left:1946px;top:512px;width:182px;height:47px;line-height:46px">_time</div><div class="h" style="left:2139px;top:512px;width:182px;height:47px;line-height:46px">src_ip</div><div class="h" style="left:2332px;top:512px;width:182px;height:47px;line-height:46px;letter-spacing:0.3px;text-indent:0.3px">src_port</div><div class="h" style="left:2525px;top:512px;width:182px;height:47px;line-height:46px;letter-spacing:0.3px;text-indent:0.3px">dst_ip</div><div class="h" style="left:2718px;top:512px;width:182px;height:47px;line-height:46px;letter-spacing:0.5px;text-indent:0.5px">dst_port</div><div class="h" style="left:2911px;top:512px;width:182px;height:47px;line-height:46px;letter-spacing:0.5px;text-indent:0.5px">protocol</div><div class="h d" style="left:3104px;top:512px;width:283px;height:47px"><i></i><i></i><i></i></div><div class="c" style="left:1946px;top:566px;width:182px;height:47.5px;background:#2e75b6"></div><div class="c" style="left:2139px;top:566px;width:182px;height:47.5px;background:#2e75b6"></div><div class="c" style="left:2332px;top:566px;width:182px;height:47.5px;background:#2e75b6"></div><div class="c" style="left:2525px;top:566px;width:182px;height:47.5px;background:#2e75b6"></div><div class="c" style="left:2718px;top:566px;width:182px;height:47.5px;background:#2e75b6"></div><div class="c" style="left:2911px;top:566px;width:182px;height:47.5px;background:#2e75b6"></div><div class="c" style="left:3104px;top:566px;width:283px;height:47.5px;background:#595959"></div><div class="c" style="left:1946px;top:621px;width:182px;height:47px;background:#ff7f4d"></div><div class="c" style="left:2139px;top:621px;width:182px;height:47px;background:#ff7f4d"></div><div class="c" style="left:2332px;top:621px;width:182px;height:47px;background:#ff7f4d"></div><div class="c" style="left:2525px;top:621px;width:182px;height:47px;background:#ff7f4d"></div><div class="c" style="left:2718px;top:621px;width:182px;height:47px;background:#ff7f4d"></div><div class="c" style="left:2911px;top:621px;width:182px;height:47px;background:#ff7f4d"></div><div class="c" style="left:3104px;top:621px;width:283px;height:47px;background:#595959"></div><div class="c" style="left:1946px;top:676px;width:182px;height:47px;background:#2e75b6"></div><div class="c" style="left:2139px;top:676px;width:182px;height:47px;background:#2e75b6"></div><div class="c" style="left:2332px;top:676px;width:182px;height:47px;background:#2e75b6"></div><div class="c" style="left:2525px;top:676px;width:182px;height:47px;background:#2e75b6"></div><div class="c" style="left:2718px;top:676px;width:182px;height:47px;background:#2e75b6"></div><div class="c" style="left:2911px;top:676px;width:182px;height:47px;background:#2e75b6"></div><div class="c" style="left:3104px;top:676px;width:283px;height:47px;background:#595959"></div><div class="c" style="left:1946px;top:730px;width:182px;height:47px;background:#ff7f4d"></div><div class="c" style="left:2139px;top:730px;width:182px;height:47px;background:#ff7f4d"></div><div class="c" style="left:2332px;top:730px;width:182px;height:47px;background:#ff7f4d"></div><div class="c" style="left:2525px;top:730px;width:182px;height:47px;background:#ff7f4d"></div><div class="c" style="left:2718px;top:730px;width:182px;height:47px;background:#ff7f4d"></div><div class="c" style="left:2911px;top:730px;width:182px;height:47px;background:#ff7f4d"></div><div class="c" style="left:3104px;top:730px;width:283px;height:47px;background:#595959"></div>
<div class="k" style="left:723px;top:120px;font-size:55px">방화벽 파서 A</div><div class="k" style="left:722px;top:625px;font-size:55px">방화벽 파서 B</div><div class="k" style="left:2537px;top:300px;font-size:54px">정규화 규칙</div><div class="k" style="left:2420px;top:420px;font-size:46px">로그 스키마에 맞춰 정규화</div>
<svg width="3535" height="1114" viewBox="0 0 3535 1114" style="position:absolute;left:0;top:0"><path d="M97.5,118 A24,24 0 0 1 121.5,93.5" fill="none" stroke="#fff" stroke-opacity="0.85" stroke-width="1.3" stroke-linecap="round"/><path d="M1620.5,93.5 A24,24 0 0 1 1644.5,118" fill="none" stroke="#fff" stroke-opacity="0.85" stroke-width="1.3" stroke-linecap="round"/><path d="M94.5,624.5 A24,24 0 0 1 118.5,600.0" fill="none" stroke="#fff" stroke-opacity="0.85" stroke-width="1.3" stroke-linecap="round"/><path d="M1617.5,600.0 A24,24 0 0 1 1641.5,624.5" fill="none" stroke="#fff" stroke-opacity="0.85" stroke-width="1.3" stroke-linecap="round"/><text x="878.3" y="179" text-anchor="middle" font-size="56" fill="#7f7f7f" font-family="&quot;Liberation Sans&quot;, &quot;Noto Sans CJK KR&quot;, sans-serif">방화벽 파서 A</text><text x="875.9" y="684.1" text-anchor="middle" font-size="55.5" fill="#7f7f7f" font-family="&quot;Liberation Sans&quot;, &quot;Noto Sans CJK KR&quot;, sans-serif">방화벽 파서 B</text><text x="2664.7" y="359.9" text-anchor="middle" font-size="55" font-weight="500" fill="#1f3864" font-family="&quot;Liberation Sans&quot;, &quot;Noto Sans CJK KR&quot;, sans-serif">정규화 규칙</text><text x="2666.6" y="469.5" text-anchor="middle" font-size="46.3" font-weight="500" fill="#1f3864" font-family="&quot;Liberation Sans&quot;, &quot;Noto Sans CJK KR&quot;, sans-serif">로그 스키마에 맞춰 정규화</text><line x1="1591" y1="370.8" x2="1925.1" y2="576.0" stroke="#4472c4" stroke-width="3"/><polygon points="1945.6,588.6 1916.4,586.5 1930.5,563.5" fill="#4472c4"/><line x1="1591" y1="425.9" x2="1926.6" y2="683.2" stroke="#4472c4" stroke-width="3"/><polygon points="1945.6,697.8 1916.8,692.7 1933.2,671.3" fill="#4472c4"/><line x1="1588" y1="862.9" x2="1925.1" y2="658.1" stroke="#ff7f4d" stroke-width="3"/><polygon points="1945.6,645.6 1930.4,670.6 1916.4,647.6" fill="#ff7f4d"/><line x1="1588" y1="916.9" x2="1923.7" y2="764.9" stroke="#ff7f4d" stroke-width="3"/><polygon points="1945.6,755 1927.5,778.0 1916.3,753.4" fill="#ff7f4d"/></svg>
</body></html>
